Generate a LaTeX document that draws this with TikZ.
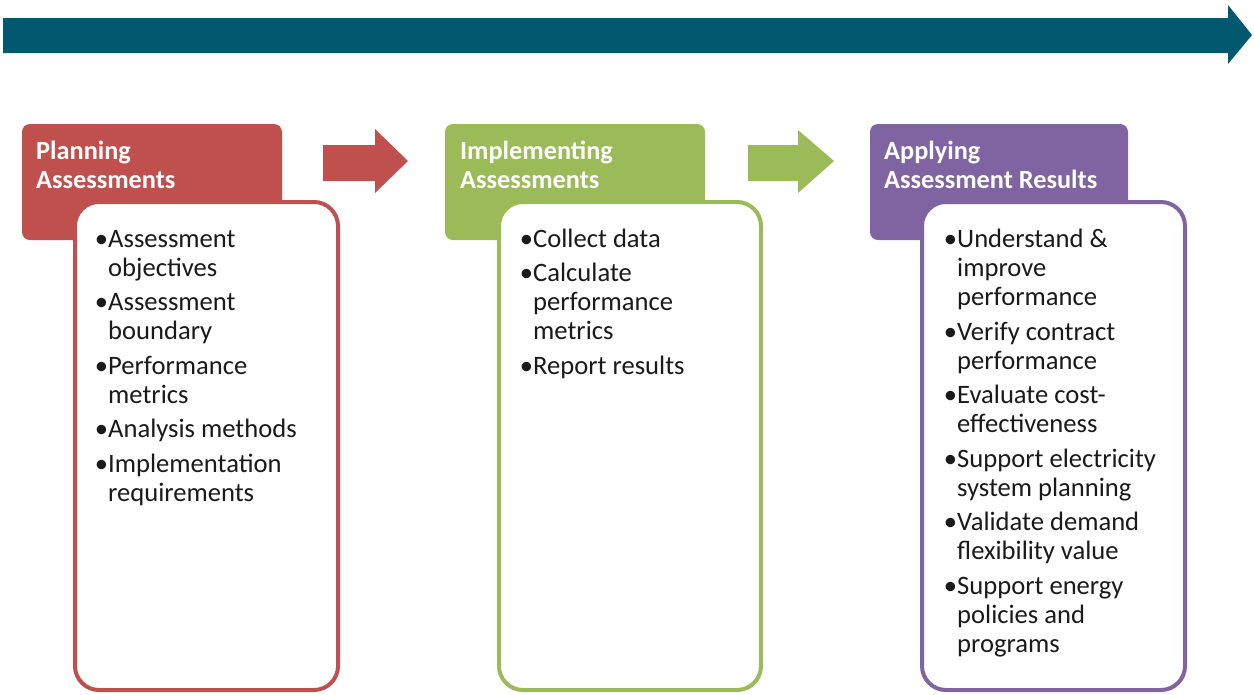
\documentclass[tikz,border=0pt]{standalone}
\usepackage{fontspec}
\setmainfont{Carlito}
\definecolor{teal}{HTML}{02596F}
\definecolor{cred}{HTML}{C0504D}
\definecolor{cgreen}{HTML}{9BBB59}
\definecolor{cpurple}{HTML}{8064A2}
\definecolor{ctext}{HTML}{1A1A1A}
\tikzset{
  hdr/.style={rounded corners=8pt},
  bodybox/.style={draw=#1,line width=4pt,fill=white,rounded corners=24pt},
  htext/.style={anchor=base west,inner sep=0pt,text=white,font=\fontsize{26.3}{30}\selectfont\bfseries},
  btext/.style={anchor=base west,inner sep=0pt,text=ctext,font=\fontsize{26.6}{29}\selectfont},
  flow/.style={fill=#1}
}
\begin{document}
\begin{tikzpicture}[x=1pt,y=-1pt]
\useasboundingbox (0,0) rectangle (1254,694);
% top arrow
\fill[teal] (3,18) -- (1228,18) -- (1228,5) -- (1252,35) -- (1228,64) -- (1228,53) -- (3,53) -- cycle;
% small arrows
\fill[cred] (323,145) -- (375,145) -- (375,129) -- (408,161) -- (375,193) -- (375,181) -- (323,181) -- cycle;
\fill[cgreen] (748,145) -- (798,145) -- (798,130) -- (834,161) -- (798,193) -- (798,181) -- (748,181) -- cycle;
% headers
\fill[cred,hdr] (22,124) rectangle (282,240);
\fill[cgreen,hdr] (445,124) rectangle (705,240);
\fill[cpurple,hdr] (870,124) rectangle (1128,240);
% bodies
\draw[bodybox=cred] (75,202) rectangle (338,690);
\draw[bodybox=cgreen] (499,202) rectangle (761,690);
\draw[bodybox=cpurple] (922,202) rectangle (1185,690);
% header texts
\node[htext] (h1a) at (36,159) {Planning};
\node[htext] (h1b) at (36,188) {Assessments};
\node[htext] (h2a) at (460,159) {Implementing};
\node[htext] (h2b) at (460,188) {Assessments};
\node[htext] (h3a) at (884,159) {Applying};
\node[htext] (h3b) at (884,188) {Assessment Results};
% red body
\foreach \y/\t [count=\i] in {247/\llap{•}Assessment, 276/objectives, 310/\llap{•}Assessment, 339/boundary, 374/\llap{•}Performance, 403/metrics, 437/\llap{•}Analysis methods, 472/\llap{•}Implementation, 501/requirements}
  \node[btext] (r\i) at (108,\y) {\t};
% green body
\foreach \y/\t [count=\i] in {247/\llap{•}Collect data, 281/\llap{•}Calculate, 310/performance, 339/metrics, 374/\llap{•}Report results}
  \node[btext] (g\i) at (533,\y) {\t};
% purple body
\foreach \y/\t [count=\i] in {247/\llap{•}Understand \&, 276/improve, 305/performance, 340/\llap{•}Verify contract, 369/performance, 403/\llap{•}Evaluate cost-, 432/effectiveness, 467/\llap{•}Support electricity, 496/system planning, 530/\llap{•}Validate demand, 559/flexibility value, 594/\llap{•}Support energy, 623/policies and, 652/programs}
  \node[btext] (p\i) at (957,\y) {\t};
\end{tikzpicture}
\end{document}
